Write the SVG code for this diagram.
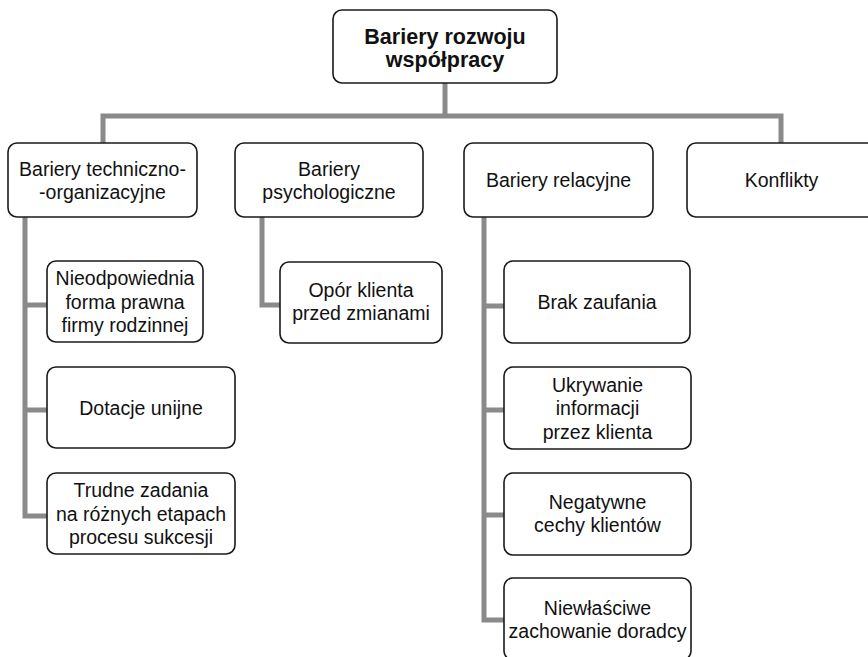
<svg xmlns="http://www.w3.org/2000/svg" width="868" height="657" viewBox="0 0 868 657">
  <style>
    .box { fill: #ffffff; stroke: #1a1a1a; stroke-width: 1.6; }
    .lbl { font-family: "Liberation Sans", Arial, sans-serif; font-size: 19.5px; fill: #111111; text-anchor: middle; }
    .title { font-weight: bold; font-size: 21.5px; }
    .link { fill: none; stroke: #8a8a8a; stroke-width: 5; stroke-linejoin: miter; stroke-linecap: butt; }
  </style>
  <rect width="868" height="657" fill="#ffffff"/>

  <!-- connectors -->
  <g id="connectors">
    <path class="link" d="M445,83 V116"/>
    <path class="link" d="M103,143 V116 H781 V143"/>
    <path class="link" d="M25,217 V516 H47 M25,305 H47 M25,410 H47"/>
    <path class="link" d="M262,217 V305 H280"/>
    <path class="link" d="M484,217 V620 H504 M484,306 H504 M484,410 H504 M484,515 H504"/>
  </g>

  <!-- root -->
  <g id="root">
    <rect class="box" x="333" y="10" width="224" height="73" rx="9"/>
    <text class="lbl title" x="445" y="44">Bariery rozwoju</text>
    <text class="lbl title" x="445" y="67">współpracy</text>
  </g>

  <!-- first level -->
  <g id="tech">
    <rect class="box" x="8" y="143" width="189" height="74" rx="9"/>
    <text class="lbl" x="102.5" y="176">Bariery techniczno-</text>
    <text class="lbl" x="102.5" y="199">-organizacyjne</text>
  </g>
  <g id="psych">
    <rect class="box" x="235" y="143" width="188" height="74" rx="9"/>
    <text class="lbl" x="329" y="176">Bariery</text>
    <text class="lbl" x="329" y="199">psychologiczne</text>
  </g>
  <g id="relac">
    <rect class="box" x="464" y="143" width="189" height="74" rx="9"/>
    <text class="lbl" x="558.5" y="187">Bariery relacyjne</text>
  </g>
  <g id="konflikty">
    <rect class="box" x="687" y="143" width="189" height="74" rx="9"/>
    <text class="lbl" x="781.5" y="187">Konflikty</text>
  </g>

  <!-- technical / organisational barriers -->
  <g id="forma">
    <rect class="box" x="47" y="261" width="156" height="81" rx="9"/>
    <text class="lbl" x="125" y="285">Nieodpowiednia</text>
    <text class="lbl" x="125" y="308.5">forma prawna</text>
    <text class="lbl" x="125" y="332">firmy rodzinnej</text>
  </g>
  <g id="dotacje">
    <rect class="box" x="47" y="367" width="188" height="81" rx="9"/>
    <text class="lbl" x="141" y="414.5">Dotacje unijne</text>
  </g>
  <g id="zadania">
    <rect class="box" x="47" y="473" width="188" height="81" rx="9"/>
    <text class="lbl" x="141" y="497">Trudne zadania</text>
    <text class="lbl" x="141" y="520.5">na różnych etapach</text>
    <text class="lbl" x="141" y="544">procesu sukcesji</text>
  </g>

  <!-- psychological barriers -->
  <g id="opor">
    <rect class="box" x="280" y="262" width="162" height="81" rx="9"/>
    <text class="lbl" x="361" y="297">Opór klienta</text>
    <text class="lbl" x="361" y="320">przed zmianami</text>
  </g>

  <!-- relational barriers -->
  <g id="zaufanie">
    <rect class="box" x="504" y="261" width="186" height="82" rx="9"/>
    <text class="lbl" x="597" y="309">Brak zaufania</text>
  </g>
  <g id="ukrywanie">
    <rect class="box" x="504" y="367" width="187" height="82" rx="9"/>
    <text class="lbl" x="597.5" y="391.5">Ukrywanie</text>
    <text class="lbl" x="597.5" y="415">informacji</text>
    <text class="lbl" x="597.5" y="438.5">przez klienta</text>
  </g>
  <g id="cechy">
    <rect class="box" x="504" y="473" width="187" height="82" rx="9"/>
    <text class="lbl" x="597.5" y="508.5">Negatywne</text>
    <text class="lbl" x="597.5" y="531.5">cechy klientów</text>
  </g>
  <g id="doradca">
    <rect class="box" x="504" y="578" width="187" height="82" rx="9"/>
    <text class="lbl" x="597.5" y="615">Niewłaściwe</text>
    <text class="lbl" x="597.5" y="638">zachowanie doradcy</text>
  </g>
</svg>
